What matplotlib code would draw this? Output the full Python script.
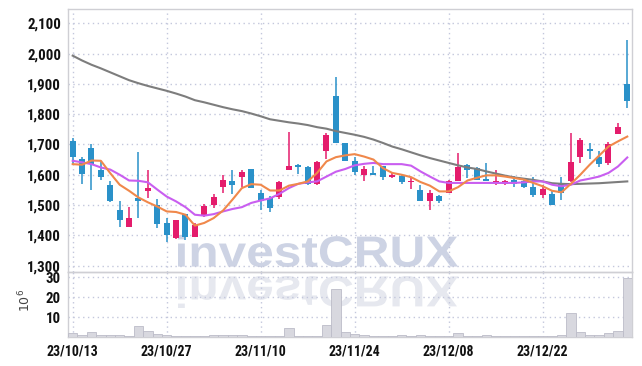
import matplotlib
matplotlib.use("Agg")
import matplotlib.pyplot as plt
from matplotlib.textpath import TextPath
from matplotlib.patches import PathPatch
from matplotlib.font_manager import FontProperties
from matplotlib.transforms import Affine2D, IdentityTransform

# daily candles, 23/10/13 .. 24/01/09 (trading days only)
opens = [1710, 1653, 1689, 1616, 1567, 1484, 1429, 1523, 1545, 1499,
         1441, 1391, 1470, 1396, 1468, 1501, 1558, 1580, 1592, 1620,
         1540, 1523, 1525, 1617, 1633, 1627, 1569, 1677, 1861, 1705,
         1646, 1598, 1606, 1630, 1591, 1597, 1575, 1550, 1512, 1531,
         1540, 1578, 1633, 1622, 1587, 1572, 1570, 1584, 1578, 1559,
         1532, 1537, 1569, 1580, 1657, 1686, 1658, 1639, 1734, 1900]
highs = [1721, 1657, 1702, 1644, 1578, 1514, 1493, 1675, 1614, 1521,
         1457, 1452, 1470, 1440, 1505, 1537, 1600, 1616, 1616, 1620,
         1551, 1530, 1580, 1741, 1636, 1630, 1645, 1737, 1924, 1705,
         1659, 1630, 1630, 1630, 1606, 1600, 1594, 1566, 1550, 1533,
         1582, 1672, 1636, 1627, 1639, 1614, 1584, 1597, 1590, 1594,
         1567, 1545, 1594, 1737, 1721, 1705, 1678, 1707, 1772, 2045]
lows = [1636, 1570, 1548, 1581, 1510, 1429, 1429, 1457, 1523, 1424,
        1377, 1388, 1385, 1396, 1460, 1490, 1541, 1537, 1561, 1555,
        1484, 1477, 1520, 1617, 1604, 1566, 1566, 1652, 1705, 1644,
        1600, 1578, 1600, 1584, 1589, 1570, 1553, 1512, 1484, 1508,
        1540, 1578, 1589, 1581, 1580, 1567, 1565, 1558, 1555, 1528,
        1523, 1499, 1517, 1577, 1639, 1652, 1625, 1633, 1734, 1820]
closes = [1657, 1602, 1635, 1594, 1512, 1451, 1457, 1512, 1556, 1437,
          1402, 1451, 1394, 1435, 1498, 1528, 1584, 1565, 1609, 1555,
          1512, 1490, 1575, 1630, 1624, 1569, 1642, 1732, 1705, 1644,
          1608, 1620, 1600, 1591, 1600, 1575, 1578, 1512, 1540, 1512,
          1580, 1627, 1614, 1581, 1580, 1580, 1580, 1569, 1558, 1532,
          1554, 1499, 1540, 1642, 1716, 1677, 1635, 1701, 1757, 1842]

# volume, millions of shares
volume = [2.1, 1.1, 2.6, 1.0, 1.0, 1.0, 0.9, 5.6, 3.2, 1.7,
          1.0, 0.5, 0.5, 0.5, 0.5, 1.0, 1.0, 1.0, 1.0, 0.6,
          0.5, 0.5, 0.6, 4.6, 0.6, 0.5, 0.6, 6.1, 24.1, 2.7,
          1.7, 1.0, 0.8, 0.5, 0.5, 1.0, 0.5, 1.0, 0.5, 0.5,
          0.6, 2.1, 0.5, 0.5, 1.0, 0.5, 0.5, 0.5, 0.5, 0.5,
          0.5, 0.5, 1.1, 12.1, 2.6, 1.1, 1.1, 2.1, 3.2, 29.9]

# moving averages
ma_short = [1635, 1633, 1647, 1646, 1605, 1567, 1547, 1525, 1509, 1495,
            1479, 1477, 1468, 1432, 1441, 1457, 1482, 1518, 1556, 1569,
            1567, 1548, 1548, 1564, 1570, 1578, 1606, 1644, 1658, 1664,
            1668, 1660, 1650, 1622, 1606, 1600, 1592, 1576, 1564, 1545,
            1545, 1559, 1581, 1590, 1598, 1598, 1594, 1589, 1584, 1573,
            1562, 1547, 1542, 1570, 1600, 1633, 1663, 1693, 1710, 1726]
ma_mid = [1646, 1641, 1635, 1624, 1617, 1600, 1581, 1580, 1575, 1551,
          1528, 1512, 1493, 1468, 1465, 1470, 1479, 1487, 1493, 1507,
          1515, 1522, 1537, 1556, 1570, 1575, 1578, 1594, 1610, 1619,
          1631, 1636, 1639, 1635, 1635, 1635, 1630, 1611, 1594, 1578,
          1573, 1573, 1573, 1573, 1573, 1573, 1573, 1573, 1575, 1578,
          1578, 1567, 1562, 1567, 1581, 1587, 1594, 1606, 1627, 1657]
ma_long = [1993, 1977, 1963, 1951, 1938, 1925, 1912, 1902, 1893, 1885,
           1877, 1868, 1858, 1846, 1839, 1831, 1823, 1816, 1810, 1802,
           1793, 1783, 1778, 1773, 1769, 1764, 1757, 1752, 1744, 1738,
           1732, 1725, 1716, 1705, 1693, 1684, 1674, 1664, 1655, 1647,
           1639, 1631, 1624, 1619, 1611, 1604, 1597, 1591, 1587, 1583,
           1578, 1572, 1570, 1569, 1570, 1571, 1572, 1574, 1576, 1578]

tick_pos = [0, 10, 20, 30, 40, 50]
tick_labels = ["23/10/13", "23/10/27", "23/11/10", "23/11/24", "23/12/08", "23/12/22"]

UP = "#e41c6c"
DOWN = "#2a91c9"
GRID = "#c3c7dc"
SPINE = "#cfcfd4"
LABEL_FONT = ["Liberation Sans Narrow", "Roboto Condensed", "Liberation Sans", "DejaVu Sans"]

fig = plt.figure(figsize=(6.42, 3.66), dpi=100, facecolor="white")
ax = fig.add_axes([0.1059, 0.256, 0.8785, 0.7194], facecolor="none")
axv = fig.add_axes([0.1059, 0.0784, 0.8785, 0.1776], facecolor="none", sharex=ax)

# watermark and its reflection, drawn behind the axes
fp = FontProperties(family="Liberation Sans", weight="bold")
tp = TextPath((0, 0), "investCRUX", size=100, prop=fp)
ext = tp.get_extents()
sx = 280 / ext.width
sy = 32 / ext.height
tr = Affine2D().translate(-ext.x0, -ext.y0).scale(sx, sy).translate(178, 366 - 267)
fig.add_artist(PathPatch(tr.transform_path(tp), fc="#cdd3e4", ec="none",
                         transform=IdentityTransform(), zorder=-2))
tr2 = Affine2D().translate(-ext.x0, -ext.y0).scale(sx, -sy).translate(178, 366 - 276)
fig.add_artist(PathPatch(tr2.transform_path(tp), fc="#e6e8ef", ec="none",
                         transform=IdentityTransform(), zorder=-2))

x = list(range(len(closes)))
colors = [UP if c >= o else DOWN for o, c in zip(opens, closes)]
bottoms = [min(o, c) for o, c in zip(opens, closes)]
heights = [max(abs(c - o), 3) for o, c in zip(opens, closes)]

ax.vlines(x, lows, highs, colors=colors, linewidth=1.1, zorder=3)
ax.bar(x, heights, bottom=bottoms, width=0.64, color=colors, zorder=4)

ax.plot(x, ma_long, color="#7d7d7d", linewidth=1.5, zorder=5)
ax.plot(x, ma_mid, color="#c95ef0", linewidth=1.5, zorder=5)
ax.plot(x, ma_short, color="#f0884b", linewidth=1.5, zorder=5)

axv.bar(x, volume, width=1.0, color="#d8d8df", edgecolor="#bcbcc8", linewidth=0.6, zorder=3)

ax.set_xlim(-0.5, 59.5)
ax.set_ylim(1278, 2147)
ax.set_yticks(range(1300, 2101, 100))
ax.set_yticklabels([f"{v:,}" for v in range(1300, 2101, 100)])
axv.set_ylim(0, 32.5)
axv.set_yticks([10, 20, 30])

axv.set_xticks(tick_pos)
axv.set_xticklabels(tick_labels)
ax.tick_params(axis="x", labelbottom=False)

for a in (ax, axv):
    a.grid(True, color=GRID, linestyle=(0, (1, 2.5)), linewidth=1)
    a.set_axisbelow(True)
    a.tick_params(length=0, pad=5, labelcolor="#111111")
    for s in a.spines.values():
        s.set_color(SPINE)
        s.set_linewidth(1)
    for lab in a.get_yticklabels():
        lab.set_fontfamily(LABEL_FONT)
        lab.set_fontweight("bold")
        lab.set_fontsize(10.7)
    for lab in a.get_xticklabels():
        lab.set_fontfamily(LABEL_FONT)
        lab.set_fontweight("bold")
        lab.set_fontsize(10)

axv.set_ylabel("10$^6$", fontsize=9, color="#444444")
axv.yaxis.set_label_coords(-0.062, 0.56)

fig.savefig("out.png", dpi=100, facecolor="white")
